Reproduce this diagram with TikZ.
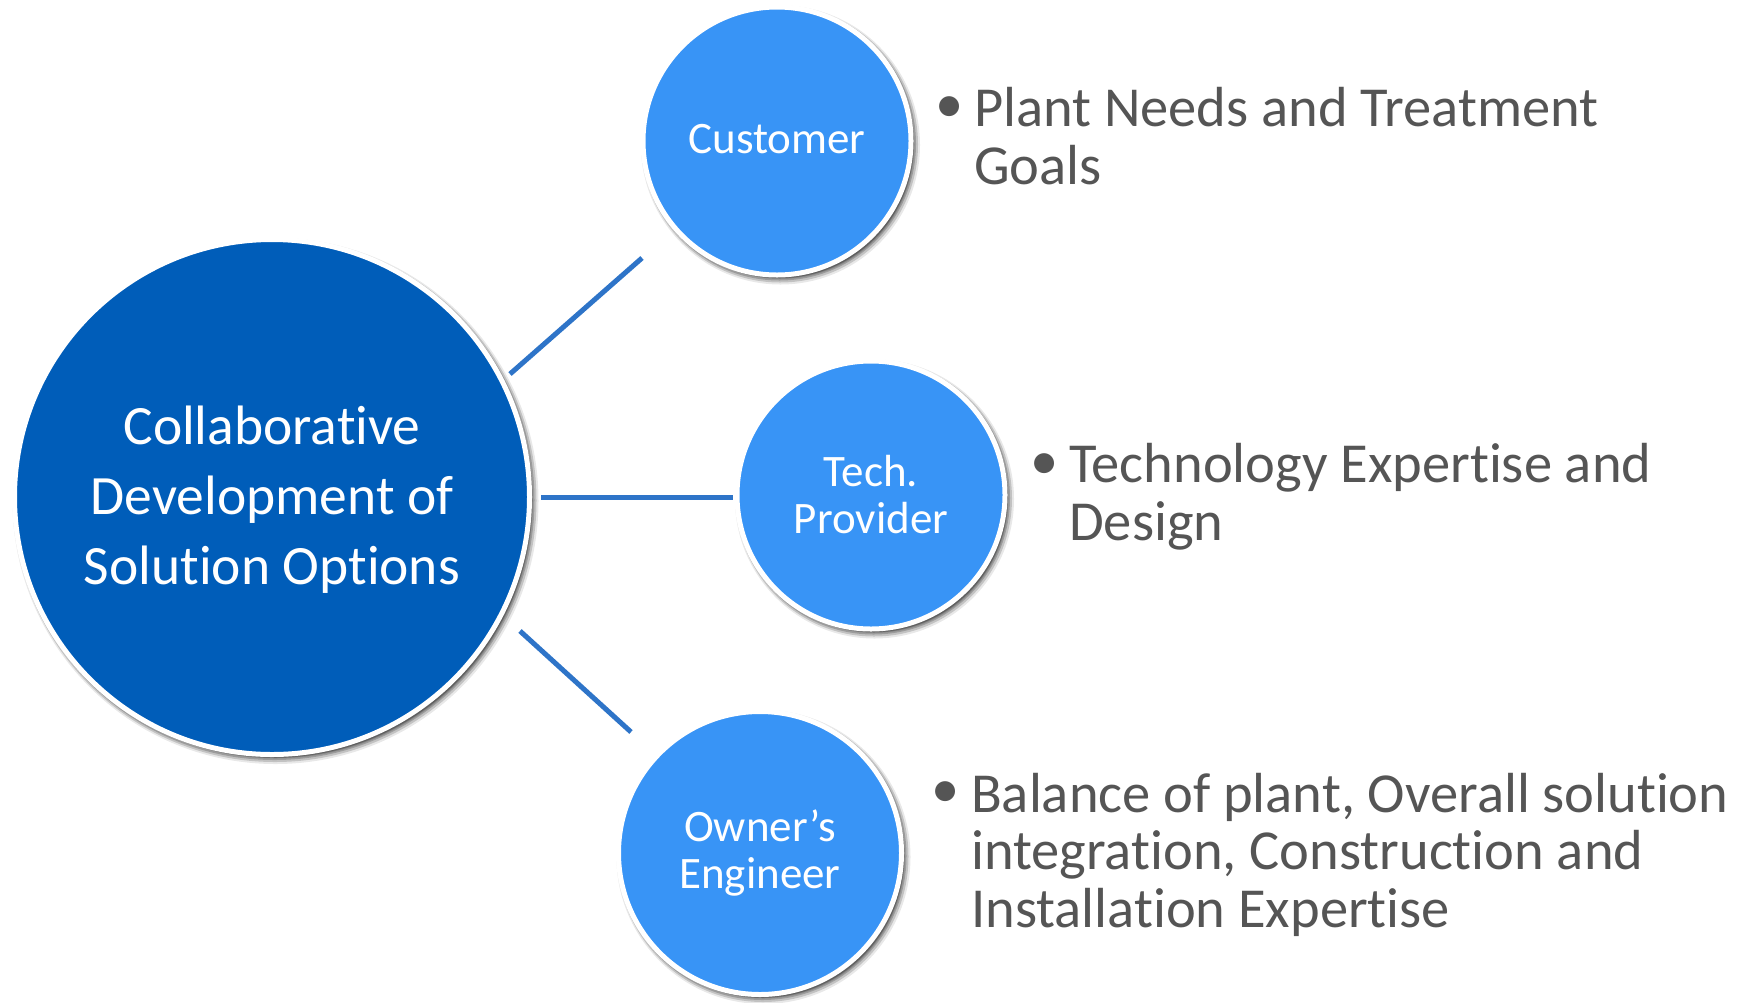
\documentclass[tikz,border=0pt]{standalone}
\usepackage{fontspec}
\setmainfont{Carlito}[Ligatures=NoCommon]
\usetikzlibrary{shadows,fadings}
\definecolor{bigblue}{RGB}{0,93,185}
\definecolor{smallblue}{RGB}{56,148,246}
\definecolor{lineblue}{RGB}{46,116,200}
\definecolor{txtgray}{RGB}{85,85,85}
\begin{document}
\begin{tikzpicture}[x=1pt,y=-1pt,
  circshadow/.style={
    drop shadow={shadow xshift=3.5pt, shadow yshift=-4pt, shadow scale=1, fill=black, draw=black, line width=11pt, opacity=0.09},
    drop shadow={shadow xshift=3pt, shadow yshift=-3.5pt, shadow scale=1, fill=black, draw=black, line width=8pt, opacity=0.16},
    drop shadow={shadow xshift=2.5pt, shadow yshift=-3pt, shadow scale=1, fill=black, draw=black, line width=5pt, opacity=0.2}},
  bigcirc/.style={circle, fill=bigblue, draw=white, line width=5pt, minimum size=515pt, inner sep=0pt, text=white, align=center, font=\fontsize{55.5}{70}\selectfont, circshadow},
  smallcirc/.style={circle, fill=smallblue, draw=white, line width=5pt, minimum size=268pt, inner sep=0pt, text=white, align=center, font=\fontsize{45}{47}\selectfont, circshadow},
  conn/.style={draw=lineblue, line width=5pt},
  bultext/.style={anchor=base west, inner sep=0pt, align=left, text=txtgray, font=\fontsize{56.5}{57.5}\selectfont},
  bulletdot/.style={inner sep=0pt, text=txtgray, font=\fontsize{56.5}{57.5}\selectfont}
]
\useasboundingbox (0,0) rectangle (1750,1002);
\fill[white] (0,0) rectangle (1750,1002);

% connectors (free ends as named coordinates)
\coordinate (c1a) at (510,374);
\coordinate (c1b) at (642,258);
\coordinate (c2a) at (541,497);
\coordinate (c2b) at (733,497);
\coordinate (c3a) at (520,631);
\coordinate (c3b) at (631,732);
\draw[conn] (c1a) -- (c1b);
\draw[conn] (c2a) -- (c2b);
\draw[conn] (c3a) -- (c3b);

% circles
\node[bigcirc] (hub) at (272,497) {\rule{0pt}{44pt}Collaborative\\Development of\\Solution Options};
\node[smallcirc] (cust) at (777,141) {\rule[-5pt]{0pt}{5pt}Customer};
\node[smallcirc] (tech) at (871,495) {Tech.\\Provider};
\node[smallcirc, minimum size=283pt] (owner) at (760,853) {Owner’s\\Engineer};

% bullet texts (base anchor = baseline of the last line)
\node[bulletdot] (d1) at (950,110) {•};
\node[bultext] (t1) at (974,184) {Plant Needs and Treatment\\Goals};
\node[bulletdot] (d2) at (1045,467) {•};
\node[bultext] (t2) at (1069,540) {Technology Expertise and\\Design};
\node[bulletdot] (d3) at (946,795) {•};
\node[bultext] (t3) at (971,927) {Balance of plant, Overall solution\\integration, Construction and\\Installation Expertise};
\end{tikzpicture}
\end{document}
